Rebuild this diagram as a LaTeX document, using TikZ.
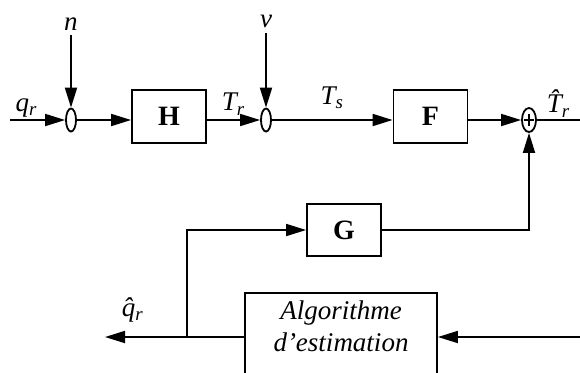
\documentclass[tikz,border=0pt]{standalone}
\usepackage{fontspec}
\setmainfont{Liberation Serif}
\usetikzlibrary{positioning, arrows.meta, shapes.geometric}

\begin{document}
\begin{tikzpicture}[
            x=0.5pt, y=-0.5pt,
            line width=0.9pt,
            block/.style={
                rectangle,
                draw,
                minimum width=37pt,
                minimum height=26.5pt,
                inner sep=0pt,
                font=\fontsize{14}{16}\selectfont\bfseries
            },
            junction/.style={
                ellipse,
                draw,
                minimum width=5pt,
                minimum height=11.5pt,
                inner sep=0pt
            },
            arrow/.style={
                -{Triangle[length=10pt,width=6pt]}
            },
            sig/.style={
                inner sep=1pt,
                font=\fontsize{13.5}{16}\selectfont\itshape
            }
        ]
            \useasboundingbox (0,0) rectangle (580,372);

            \coordinate (input) at (10,120);
            \coordinate (nin) at (71,35);
            \coordinate (vin) at (266,33);
            \node [junction] (j1) at (71,120) {};
            \node [block] (H) at (169,116.5) {H};
            \node [junction] (j2) at (266,120) {};
            \node [block] (F) at (430.5,116.5) {F};
            \node [junction, minimum width=7pt, minimum height=12pt] (sum) at (529,120) {};
            \coordinate (output) at (580,120);

            \draw [line width=0.6pt] ([xshift=-2.5pt]sum.center) -- ([xshift=2.5pt]sum.center);
            \draw [line width=0.6pt] ([yshift=-3pt]sum.center) -- ([yshift=3pt]sum.center);

            \node [block, minimum height=26pt] (G) at (344,230) {G};
            \node [rectangle, draw, minimum width=96pt, minimum height=50pt, anchor=north] (algo) at (341,292) {};
            \node [sig, align=center, below=3pt of algo.north] (algotext) {Algorithme\\d’estimation};

            \coordinate (split) at (187,337);
            \coordinate (qout) at (105,337);
            \coordinate (est) at (580,337);

            \draw [arrow] (input) -- (j1) node[sig, pos=0.3, above] {q\textsubscript{r}};
            \draw [arrow] (nin) node[sig, above=1pt] {n} -- (j1);
            \draw [arrow] (j1.east) -- (j1.east -| H.west);
            \draw [arrow] (H.east |- j2) -- (j2) node[sig, midway, above=1pt] {T\textsubscript{r}};
            \draw [arrow] (vin) node[sig, above=1pt] {v} -- (j2);
            \draw [arrow] (j2) -- (j2 -| F.west) node[sig, midway, above=4pt] {T\textsubscript{s}};
            \draw [arrow] (F.east |- sum) -- (sum);
            \draw (sum) -- (output) node[sig, midway, above] {\^{T}\textsubscript{r}};

            \draw [arrow] (G.east) -| (sum);
            \draw [arrow] (algo.west |- split) -- (qout) node[sig, pos=0.8, above=6pt] {\^{q}\textsubscript{r}};
            \draw [arrow] (split) |- (G.west);
            \draw [arrow] (est) -- (algo.east |- est);

        \end{tikzpicture}
\end{document}
